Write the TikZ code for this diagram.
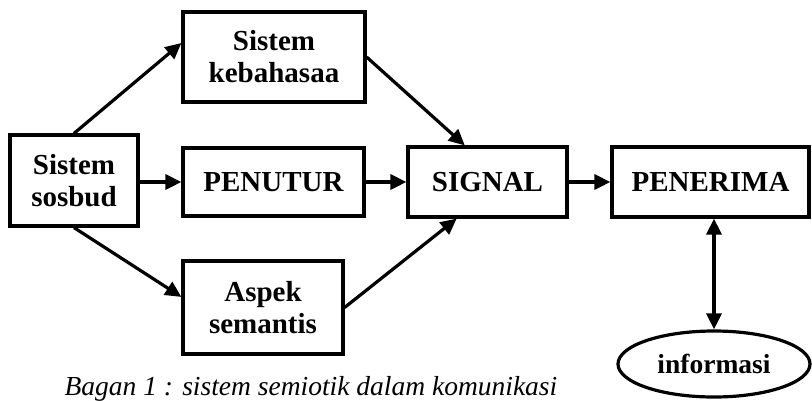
\documentclass[tikz,border=0pt]{standalone}
\usepackage{fontspec}
\setmainfont{Liberation Serif}
\usetikzlibrary{arrows.meta,calc,shapes.geometric}
\begin{document}
\begin{tikzpicture}[x=1pt,y=-1pt,
  box/.style={draw,line width=3.2pt,align=center,inner sep=0pt,
    font=\fontsize{29}{32}\selectfont\bfseries},
  conn/.style={line width=3.2pt,-{Triangle[length=16pt,width=15pt]}},
  conn2/.style={line width=3.2pt,{Triangle[length=16pt,width=15pt]}-{Triangle[length=16pt,width=15pt]}}]
\useasboundingbox (0,0) rectangle (812,400);
\node[box,minimum width=128pt,minimum height=91pt] (sosbud) at (74,180.5) {Sistem\\sosbud};
\node[box,minimum width=182pt,minimum height=90pt] (keb) at (274,57) {Sistem\\kebahasaa};
\node[box,minimum width=181pt,minimum height=68pt] (penutur) at (273.5,182) {PENUTUR};
\node[box,minimum width=160pt,minimum height=93pt] (aspek) at (263,307.5) {Aspek\\semantis};
\node[box,minimum width=159pt,minimum height=70pt] (signal) at (487.5,182) {SIGNAL};
\node[box,minimum width=197pt,minimum height=70pt] (penerima) at (710.5,182) {PENERIMA};
\node[box,ellipse,minimum width=192pt,minimum height=66pt,font=\fontsize{27.5}{31}\selectfont\bfseries] (info) at (714,364) {informasi};
\node[anchor=base,inner sep=0pt,font=\fontsize{27.5}{31}\selectfont\itshape] (cap) at (311,395) {Bagan 1 : sistem semiotik dalam komunikasi};
\draw[conn] (sosbud.north) -- ($(keb.north west)!0.35!(keb.south west)$);
\draw[conn] (sosbud.east |- penutur.west) -- (penutur.west);
\draw[conn] (sosbud.south) -- ($(aspek.north west)!0.39!(aspek.south west)$);
\draw[conn] (keb.east) -- ($(signal.north west)!0.36!(signal.north east)$);
\draw[conn] (aspek.east) -- ($(signal.south west)!0.31!(signal.south east)$);
\draw[conn] (penutur.east) -- (signal.west);
\draw[conn] (signal.east) -- (penerima.west);
\draw[conn2] (penerima.south -| info.north) -- (info.north);
\end{tikzpicture}
\end{document}
